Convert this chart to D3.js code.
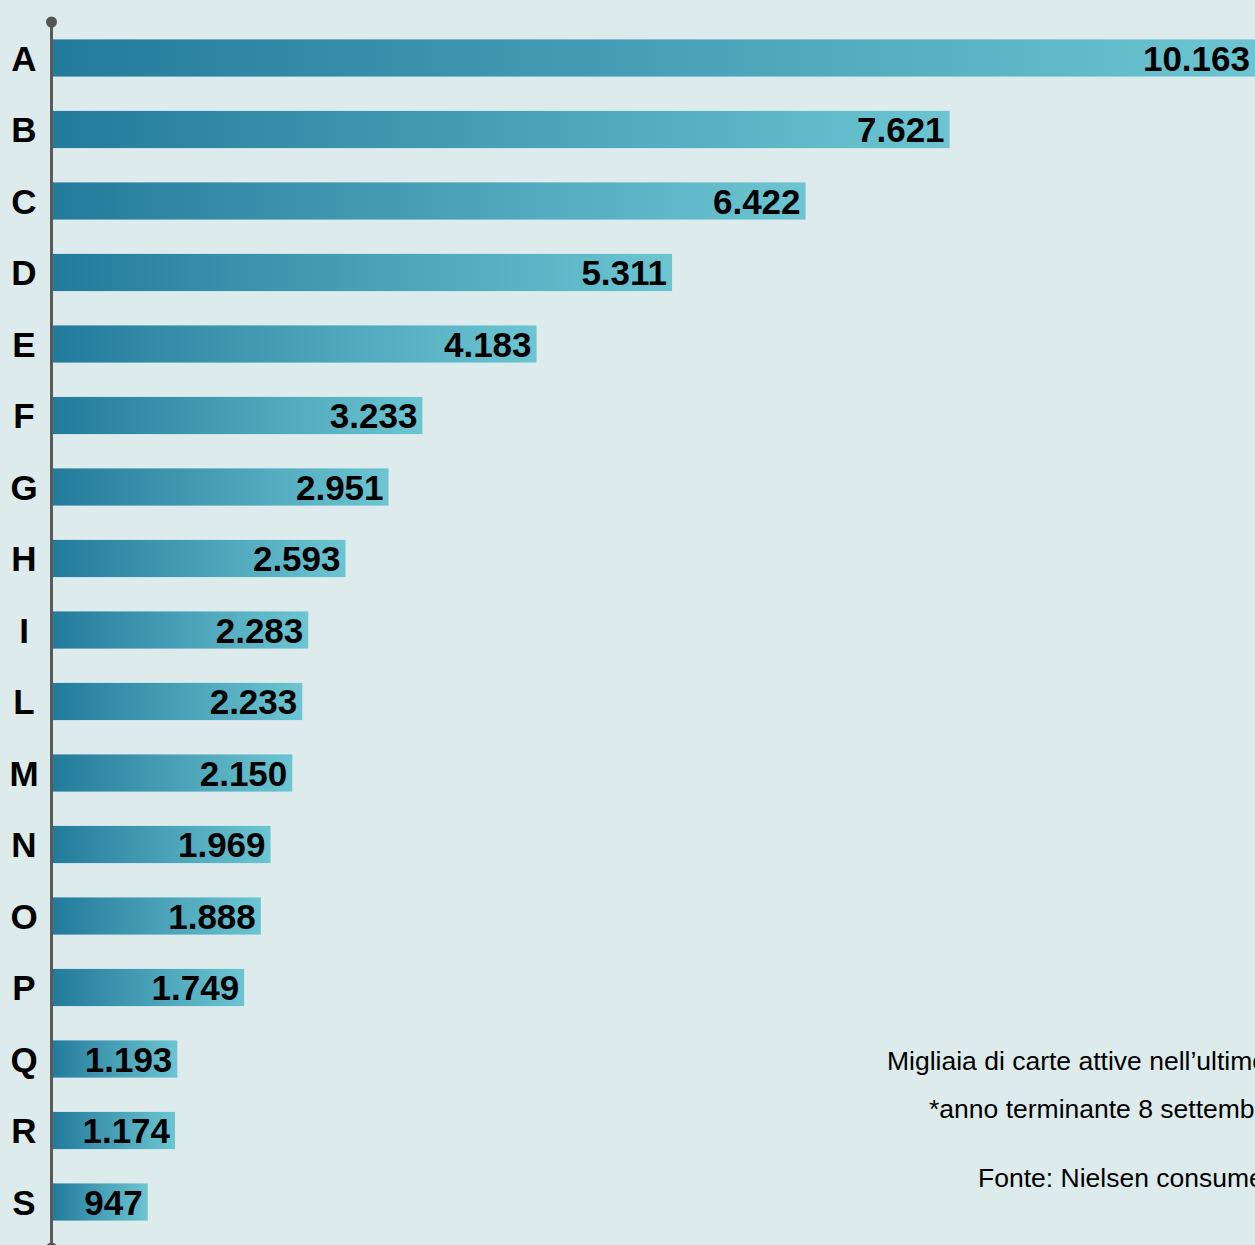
<!DOCTYPE html>
<html>
<head>
<meta charset="utf-8">
<script src="https://cdn.jsdelivr.net/npm/d3@7"></script>
<style>
  html, body { margin: 0; padding: 0; background: #ddebec; overflow: hidden; }
  svg { display: block; }
</style>
</head>
<body>
<svg id="drawing_region"></svg>
<script>
const categories = ["A","B","C","D","E","F","G","H","I","L","M","N","O","P","Q","R","S"];
const values = [10163, 7621, 6422, 5311, 4183, 3233, 2951, 2593, 2283, 2233, 2150, 1969, 1888, 1749, 1193, 1174, 947];
const notes = [
    "Migliaia di carte attive nell\u2019ultimo anno*",
    "*anno terminante 8 settembre 2013",
    "Fonte: Nielsen consumer panel"
];

const data = categories.map((c, i) => ({ label: c, value: values[i] }));

const config = {
    parent: '#drawing_region',
    width: 1255,
    height: 1245,
    margin: {top: 22, right: 5, bottom: 0, left: 53}
};

const svg = d3.select(config.parent)
    .attr('width', config.width)
    .attr('height', config.height);

svg.append('rect')
    .attr('width', config.width)
    .attr('height', config.height)
    .attr('fill', '#ddebec');

// zero sits a little left of the axis in the original artwork
const xscale = d3.scaleLinear()
    .domain([0, d3.max(values)])
    .range([-19, 1202]);

const yscale = d3.scaleBand()
    .domain(categories)
    .range([39.4, 1220.6])
    .paddingInner(0.48)
    .paddingOuter(0);

const defs = svg.append('defs');
const grad = defs.append('linearGradient')
    .attr('id', 'bar_grad')
    .attr('x1', '0%').attr('x2', '100%')
    .attr('y1', '0%').attr('y2', '0%');
grad.append('stop').attr('offset', '0%').attr('stop-color', '#237b9c');
grad.append('stop').attr('offset', '100%').attr('stop-color', '#6cc5d1');

const chart = svg.append('g')
    .attr('transform', `translate(${config.margin.left}, 0)`);

chart.selectAll('rect.bar')
    .data(data)
    .enter()
    .append('rect')
    .attr('class', 'bar')
    .attr('x', 0)
    .attr('y', d => yscale(d.label))
    .attr('width', d => xscale(d.value))
    .attr('height', yscale.bandwidth())
    .attr('fill', 'url(#bar_grad)');

chart.selectAll('text.value')
    .data(data)
    .enter()
    .append('text')
    .attr('class', 'value')
    .attr('x', d => xscale(d.value) - 5)
    .attr('y', d => yscale(d.label) + yscale.bandwidth() / 2)
    .attr('dy', '0.36em')
    .attr('text-anchor', 'end')
    .attr('font-family', 'Liberation Sans, Arial, sans-serif')
    .attr('font-weight', 'bold')
    .attr('font-size', '35px')
    .attr('fill', '#000')
    .text(d => d3.format(',')(d.value).replace(',', '.'));

// category letters
svg.append('g').selectAll('text')
    .data(categories)
    .enter()
    .append('text')
    .attr('x', 24)
    .attr('y', d => yscale(d) + yscale.bandwidth() / 2)
    .attr('dy', '0.36em')
    .attr('text-anchor', 'middle')
    .attr('font-family', 'Liberation Sans, Arial, sans-serif')
    .attr('font-weight', 'bold')
    .attr('font-size', '35px')
    .attr('fill', '#000')
    .text(d => d);

// axis line with dots
svg.append('line')
    .attr('x1', 51.5).attr('x2', 51.5)
    .attr('y1', 22).attr('y2', 1250)
    .attr('stroke', '#5a5a5a')
    .attr('stroke-width', 3);
svg.append('circle').attr('cx', 51.5).attr('cy', 22).attr('r', 5.5).attr('fill', '#555');
svg.append('circle').attr('cx', 51.5).attr('cy', 1248).attr('r', 5.5).attr('fill', '#555');

// notes (run off the right edge as in the original)
const note_pos = [[887, 1070], [929, 1118], [978, 1187]];
svg.append('g').selectAll('text')
    .data(notes)
    .enter()
    .append('text')
    .attr('x', (d, i) => note_pos[i][0])
    .attr('y', (d, i) => note_pos[i][1])
    .attr('font-family', 'Liberation Sans, Arial, sans-serif')
    .attr('font-size', '26.5px')
    .attr('fill', '#000')
    .text(d => d);
</script>
</body>
</html>
